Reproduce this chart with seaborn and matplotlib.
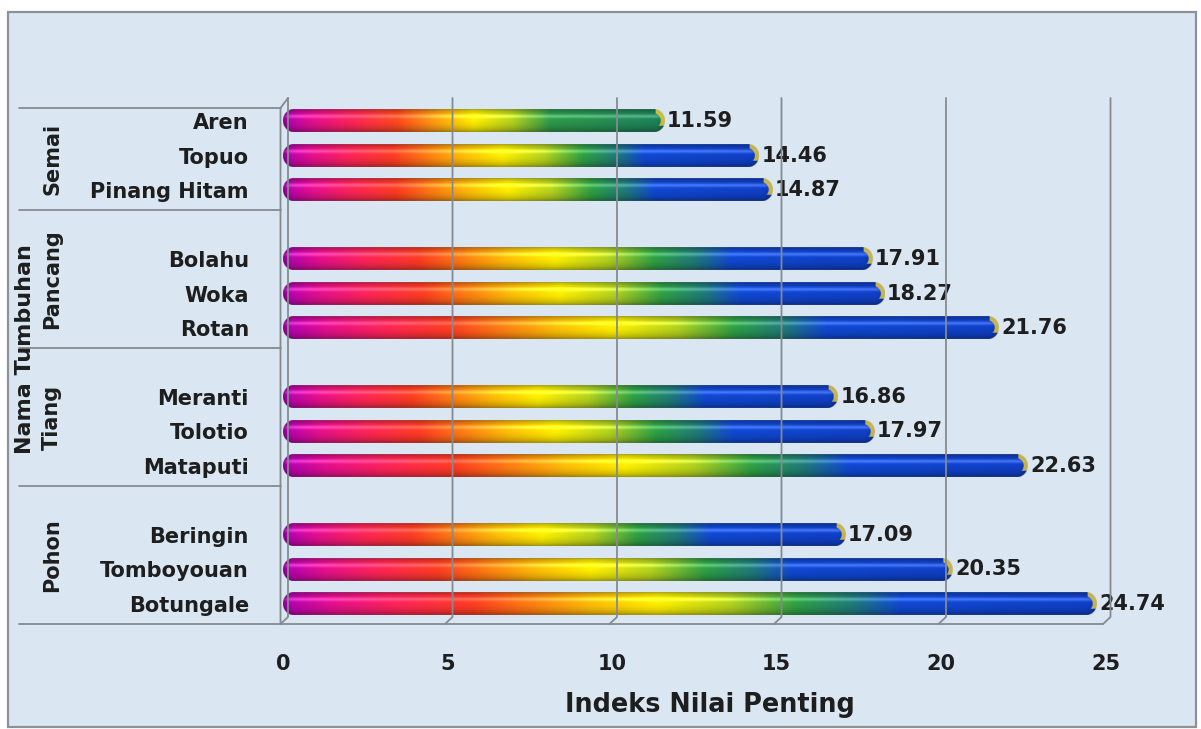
import numpy as np
import pandas as pd
import matplotlib
matplotlib.use("Agg")
import matplotlib.pyplot as plt
import seaborn as sns
from matplotlib.colors import LinearSegmentedColormap, to_rgb
from matplotlib.lines import Line2D
from matplotlib.patches import Rectangle

# ---- data -------------------------------------------------------------
tingkat = ["Semai", "Pancang", "Tiang", "Pohon"]
semai = ["Aren", "Topuo", "Pinang Hitam"]
semai_inp = [11.59, 14.46, 14.87]
pancang = ["Bolahu", "Woka", "Rotan"]
pancang_inp = [17.91, 18.27, 21.76]
tiang = ["Meranti", "Tolotio", "Mataputi"]
tiang_inp = [16.86, 17.97, 22.63]
pohon = ["Beringin", "Tomboyouan", "Botungale"]
pohon_inp = [17.09, 20.35, 24.74]
x_ticks = [0, 5, 10, 15, 20, 25]
x_label = "Indeks Nilai Penting"
y_label = "Nama Tumbuhan"

groups = [semai, pancang, tiang, pohon]
values = [semai_inp, pancang_inp, tiang_inp, pohon_inp]

df = pd.DataFrame({
    "Tingkat": [t for t, g in zip(tingkat, groups) for _ in g],
    "Nama": [n for g in groups for n in g],
    "INP": [v for vs in values for v in vs],
})

# category order with an empty slot between growth stages
order = []
for i, g in enumerate(groups):
    order += g
    if i < len(groups) - 1:
        order.append(" " * (i + 1))

# ---- figure -----------------------------------------------------------
W, H = 1201, 729
sns.set_theme(style="white")
plt.rcParams["font.family"] = ["DejaVu Sans"]
TXT = "#1e1e1e"
GRID = "#858a90"

fig = plt.figure(figsize=(W / 100, H / 100), dpi=100)
fig.patch.set_facecolor("white")


def fx(x):
    return x / W


def fy(y):
    return 1 - y / H


# chart area background and border
fig.add_artist(Rectangle((fx(8), fy(727)), fx(1188), 715 / H,
                         transform=fig.transFigure, facecolor="#dae7f3",
                         edgecolor="#8e9296", linewidth=1.6, zorder=0))

ax = fig.add_axes([fx(283), fy(624), 822.5 / W, 526 / H])
ax.patch.set_alpha(0)

sns.barplot(data=df, x="INP", y="Nama", order=order, orient="h",
            width=0.64, errorbar=None, color="#1040c8", ax=ax)

YLIM = (14.58, -0.667)
ax.set_xlim(0, 25)
ax.set_ylim(*YLIM)
for s in ax.spines.values():
    s.set_visible(False)

# ---- gradient capsule bars -------------------------------------------
rainbow = LinearSegmentedColormap.from_list("inp_rainbow", [
    (0.00, "#b000b4"), (0.06, "#e4108c"), (0.14, "#ff2456"),
    (0.23, "#ff3c22"), (0.30, "#ff7a12"), (0.38, "#ffbe08"),
    (0.46, "#fff000"), (0.55, "#b4d21e"), (0.63, "#2ea043"),
    (0.70, "#1f7a78"), (0.76, "#1048d2"), (1.00, "#0f3fc6")])
rainbow_short = LinearSegmentedColormap.from_list("inp_rainbow_short", [
    (0.00, "#b000b4"), (0.08, "#e4108c"), (0.18, "#ff2456"),
    (0.30, "#ff4a1c"), (0.40, "#ffa010"), (0.50, "#fff000"),
    (0.60, "#b4d21e"), (0.70, "#2e9a4a"), (1.00, "#1c7f5c")])

gold = np.array(to_rgb("#f2d23a"))
fig.canvas.draw()
bars = list(ax.containers[0])
SS = 3
for bar in bars:
    bar.set_visible(False)
    x0, y0 = bar.get_x(), bar.get_y()
    x1, y1 = x0 + bar.get_width(), y0 + bar.get_height()
    if bar.get_width() <= 0:
        continue
    (px0, py0), (px1, py1) = ax.transData.transform([(x0, y0), (x1, y1)])
    wpx, hpx = abs(px1 - px0), abs(py1 - py0)
    nx, ny = int(round(wpx * SS)), int(round(hpx * SS))
    xs = (np.arange(nx) + 0.5) / SS
    ys = (np.arange(ny) + 0.5) / SS
    X, Y = np.meshgrid(xs, ys)
    r = hpx / 2
    cx = np.clip(X, r, wpx - r)
    dx = X - cx
    dy = Y - r
    dist = np.sqrt(dx ** 2 + dy ** 2)
    d = np.clip(dist / r, 0, 1)
    alpha = np.clip((r - dist) * 1.2 + 0.5, 0, 1)
    nz = np.sqrt(np.clip(1 - d ** 2, 0, 1))
    light = 0.38 + 0.62 * nz ** 0.55
    light *= 1 - 0.12 * np.clip(dy / r, 0, 1)
    spec = 0.22 * np.exp(-((dy / r + 0.38) ** 2) / 0.025) * nz

    idx = int(round(y0 + bar.get_height() / 2))
    cmap = rainbow_short if order[idx] == semai[0] else rainbow
    base = cmap(X / wpx)[..., :3]
    rgb = base * light[..., None] + spec[..., None]
    # golden rim on the right end cap
    rim = (dx > 0.15 * r) & (d > 0.62) & (dy < 0.45 * r)
    rgb[rim] = 0.2 * rgb[rim] + 0.8 * gold
    rgb = np.clip(rgb, 0, 1)
    img = np.dstack([rgb, alpha])
    ax.imshow(img, extent=(x0, x1, y1, y0), origin="upper", aspect="auto",
              interpolation="antialiased", zorder=3)

ax.set_xlim(0, 25)
ax.set_ylim(*YLIM)

# value labels at the end of each bar
ax.bar_label(ax.containers[0], labels=[f"{b.get_width():.2f}" for b in bars],
             padding=2, fontsize=15, fontweight="bold", color=TXT, zorder=5)

# ---- axes, ticks, labels ---------------------------------------------
name_pos = [order.index(n) for g in groups for n in g]
ax.set_yticks(name_pos, [n for g in groups for n in g])
ax.set_xticks(x_ticks, [str(t) for t in x_ticks])
ax.tick_params(axis="y", length=0, pad=24.5, labelsize=15, labelcolor=TXT)
ax.tick_params(axis="x", length=0, pad=21.5, labelsize=15, labelcolor=TXT)
for lab in ax.get_yticklabels() + ax.get_xticklabels():
    lab.set_fontweight("bold")
ax.set_xlabel("")
ax.set_ylabel("")
ax.grid(False)

# ---- 3-D style walls and floor ---------------------------------------
fig.canvas.draw()
to_px = lambda v: ax.transData.transform((v, 0))[0]
back_dx, depth = 5.0, 7.5
top_y, back_bot, front_bot = 98, 617, 624
for t in x_ticks:
    xb = to_px(t) + back_dx
    fig.add_artist(Line2D([fx(xb), fx(xb), fx(xb - depth)],
                          [fy(top_y), fy(back_bot), fy(front_bot)],
                          transform=fig.transFigure, color=GRID, lw=1.3, zorder=1))
x_front0 = to_px(0) + back_dx - depth
x_front1 = to_px(25) + back_dx - depth
fig.add_artist(Line2D([fx(x_front0), fx(x_front1)], [fy(front_bot), fy(front_bot)],
                      transform=fig.transFigure, color=GRID, lw=1.3, zorder=1))
# side wall edge and its top corner
fig.add_artist(Line2D([fx(x_front0), fx(x_front0), fx(to_px(0) + back_dx)],
                      [fy(front_bot), fy(108), fy(top_y)],
                      transform=fig.transFigure, color=GRID, lw=1.3, zorder=1))

# group separators on the category axis
sep_y = [108, 210, 348, 486, 624]
for y in sep_y:
    fig.add_artist(Line2D([fx(19), fx(x_front0)], [fy(y), fy(y)],
                          transform=fig.transFigure, color=GRID, lw=1.3, zorder=1))

# growth stage labels
for t, ya, yb in zip(tingkat, sep_y[:-1], sep_y[1:]):
    fig.text(fx(52), fy((ya + yb) / 2), t, rotation=90, ha="center", va="center",
             fontsize=15, fontweight="bold", color=TXT)

# axis titles
fig.text(fx(25), fy(349), y_label, rotation=90, ha="center", va="center",
         fontsize=16, fontweight="bold", color=TXT)
fig.text(fx(710), fy(705), x_label, ha="center", va="center",
         fontsize=18.4, fontweight="bold", color=TXT)

fig.savefig("out.png", dpi=100, facecolor=fig.get_facecolor())
